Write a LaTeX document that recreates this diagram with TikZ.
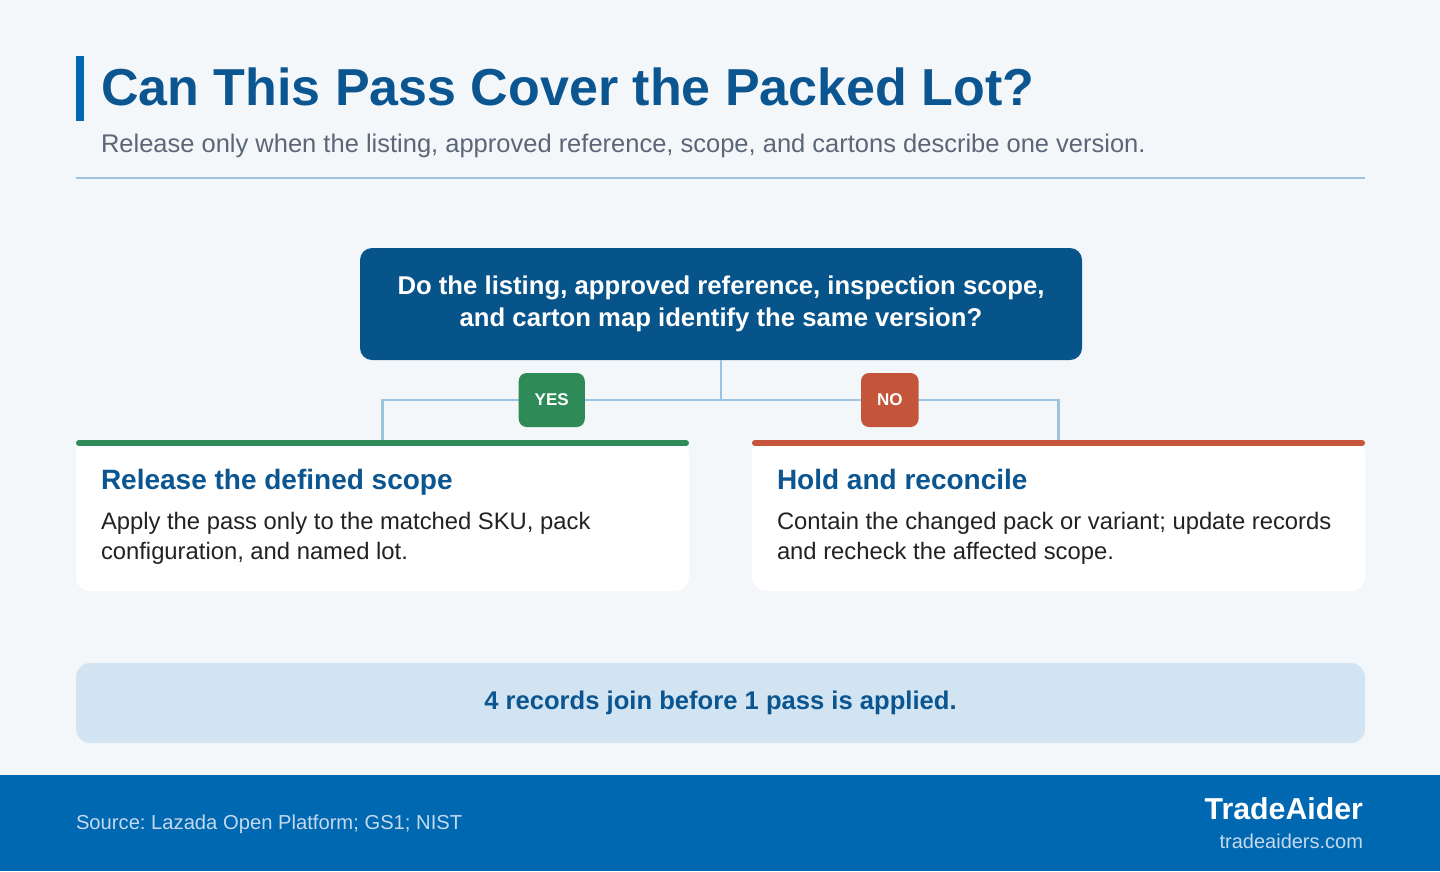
\documentclass[tikz,border=0pt]{standalone}
\usepackage{fontspec}
\setmainfont{Liberation Sans}
\usetikzlibrary{positioning, calc}
\frenchspacing

\definecolor{pagebg}{HTML}{F4F7FA}
\definecolor{brandblue}{HTML}{0067B1}
\definecolor{titleblue}{HTML}{0B5590}
\definecolor{askblue}{HTML}{07548B}
\definecolor{linkblue}{HTML}{9DC3E0}
\definecolor{yesgreen}{HTML}{2E8B57}
\definecolor{nored}{HTML}{C4553A}
\definecolor{notefill}{HTML}{D2E4F1}
\definecolor{subgray}{HTML}{5B6677}
\definecolor{bodygray}{HTML}{222222}
\definecolor{footlight}{HTML}{C4D9EE}

\begin{document}
\begin{tikzpicture}[
    x=1pt, y=-1pt,
    every node/.style={inner sep=0pt, outer sep=0pt},
    link/.style={draw=linkblue, line width=2.5pt},
    badge/.style={rounded corners=8pt, minimum height=54pt, inner xsep=16pt, text=white, font=\fontsize{17}{20}\selectfont\bfseries},
    card/.style={fill=white, rounded corners=14pt, minimum width=613pt, minimum height=151pt},
    cardtitle/.style={anchor=base west, text=titleblue, font=\fontsize{28}{32}\selectfont\bfseries},
    cardtext/.style={anchor=base west, align=left, text=bodygray, font=\fontsize{23.8}{30}\selectfont}
  ]
  \useasboundingbox (0,0) rectangle (1440,871);
  \fill[pagebg] (0,0) rectangle (1440,871);

  % Heading
  \fill[brandblue] (76,56) rectangle (84,121);
  \node (title) [anchor=base west, text=titleblue, font=\fontsize{52}{60}\selectfont\bfseries] at (101,105)
    {Can This Pass Cover the Packed Lot?};
  \node (subtitle) [anchor=base west, text=subgray, font=\fontsize{25.5}{30}\selectfont] at (101,152)
    {Release only when the listing, approved reference, scope, and cartons describe one version.};
  \draw[linkblue, line width=1.5pt] (76,178) -- (1365,178);

  % Question
  \node (question) [fill=askblue, rounded corners=12pt, minimum width=722pt, minimum height=112pt,
    align=center, text=white, font=\fontsize{25.7}{32}\selectfont\bfseries] at (721,304) {%
    Do the listing, approved reference, inspection scope,\\
    and carton map identify the same version?
  };

  % Outcome cards
  \node (release) [card, anchor=north west] at (76,440) {};
  \node (hold) [card, anchor=north west] at (752,440) {};
  \draw[yesgreen, line width=6pt, line cap=round]
    ($(release.north west)+(3,3)$) -- ($(release.north east)+(-3,3)$);
  \draw[nored, line width=6pt, line cap=round]
    ($(hold.north west)+(3,3)$) -- ($(hold.north east)+(-3,3)$);

  \node (releasetitle) [cardtitle] at ($(release.north west)+(25,49)$) {Release the defined scope};
  \node (releasetext) [cardtext] at ($(release.north west)+(25,119)$) {%
    Apply the pass only to the matched SKU, pack\\
    configuration, and named lot.
  };
  \node (holdtitle) [cardtitle] at ($(hold.north west)+(25,49)$) {Hold and reconcile};
  \node (holdtext) [cardtext] at ($(hold.north west)+(25,119)$) {%
    Contain the changed pack or variant; update records\\
    and recheck the affected scope.
  };

  % Connectors
  \draw[link] (question.south) -- ++(0,40) -| (release.north)
    node[badge, fill=yesgreen, pos=0.25] (yesbadge) {YES};
  \draw[link] (question.south) -- ++(0,40) -| (hold.north)
    node[badge, fill=nored, pos=0.25] (nobadge) {NO};

  % Summary
  \node (summary) [fill=notefill, rounded corners=14pt, minimum width=1289pt, minimum height=80pt,
    text=titleblue, font=\fontsize{25.6}{30}\selectfont\bfseries] at (720.5,703)
    {4 records join before 1 pass is applied.};

  % Footer
  \fill[brandblue] (0,775) rectangle (1440,871);
  \node (source) [anchor=base west, text=footlight, font=\fontsize{20.2}{24}\selectfont] at (76,829)
    {Source: Lazada Open Platform; GS1; NIST};
  \node (brand) [anchor=base east, text=white, font=\fontsize{30.3}{34}\selectfont\bfseries] at (1363,819)
    {TradeAider};
  \node (site) [anchor=base east, text=footlight, font=\fontsize{20}{24}\selectfont] at ($(brand.base east)+(0,29)$)
    {tradeaiders.com};
\end{tikzpicture}
\end{document}
